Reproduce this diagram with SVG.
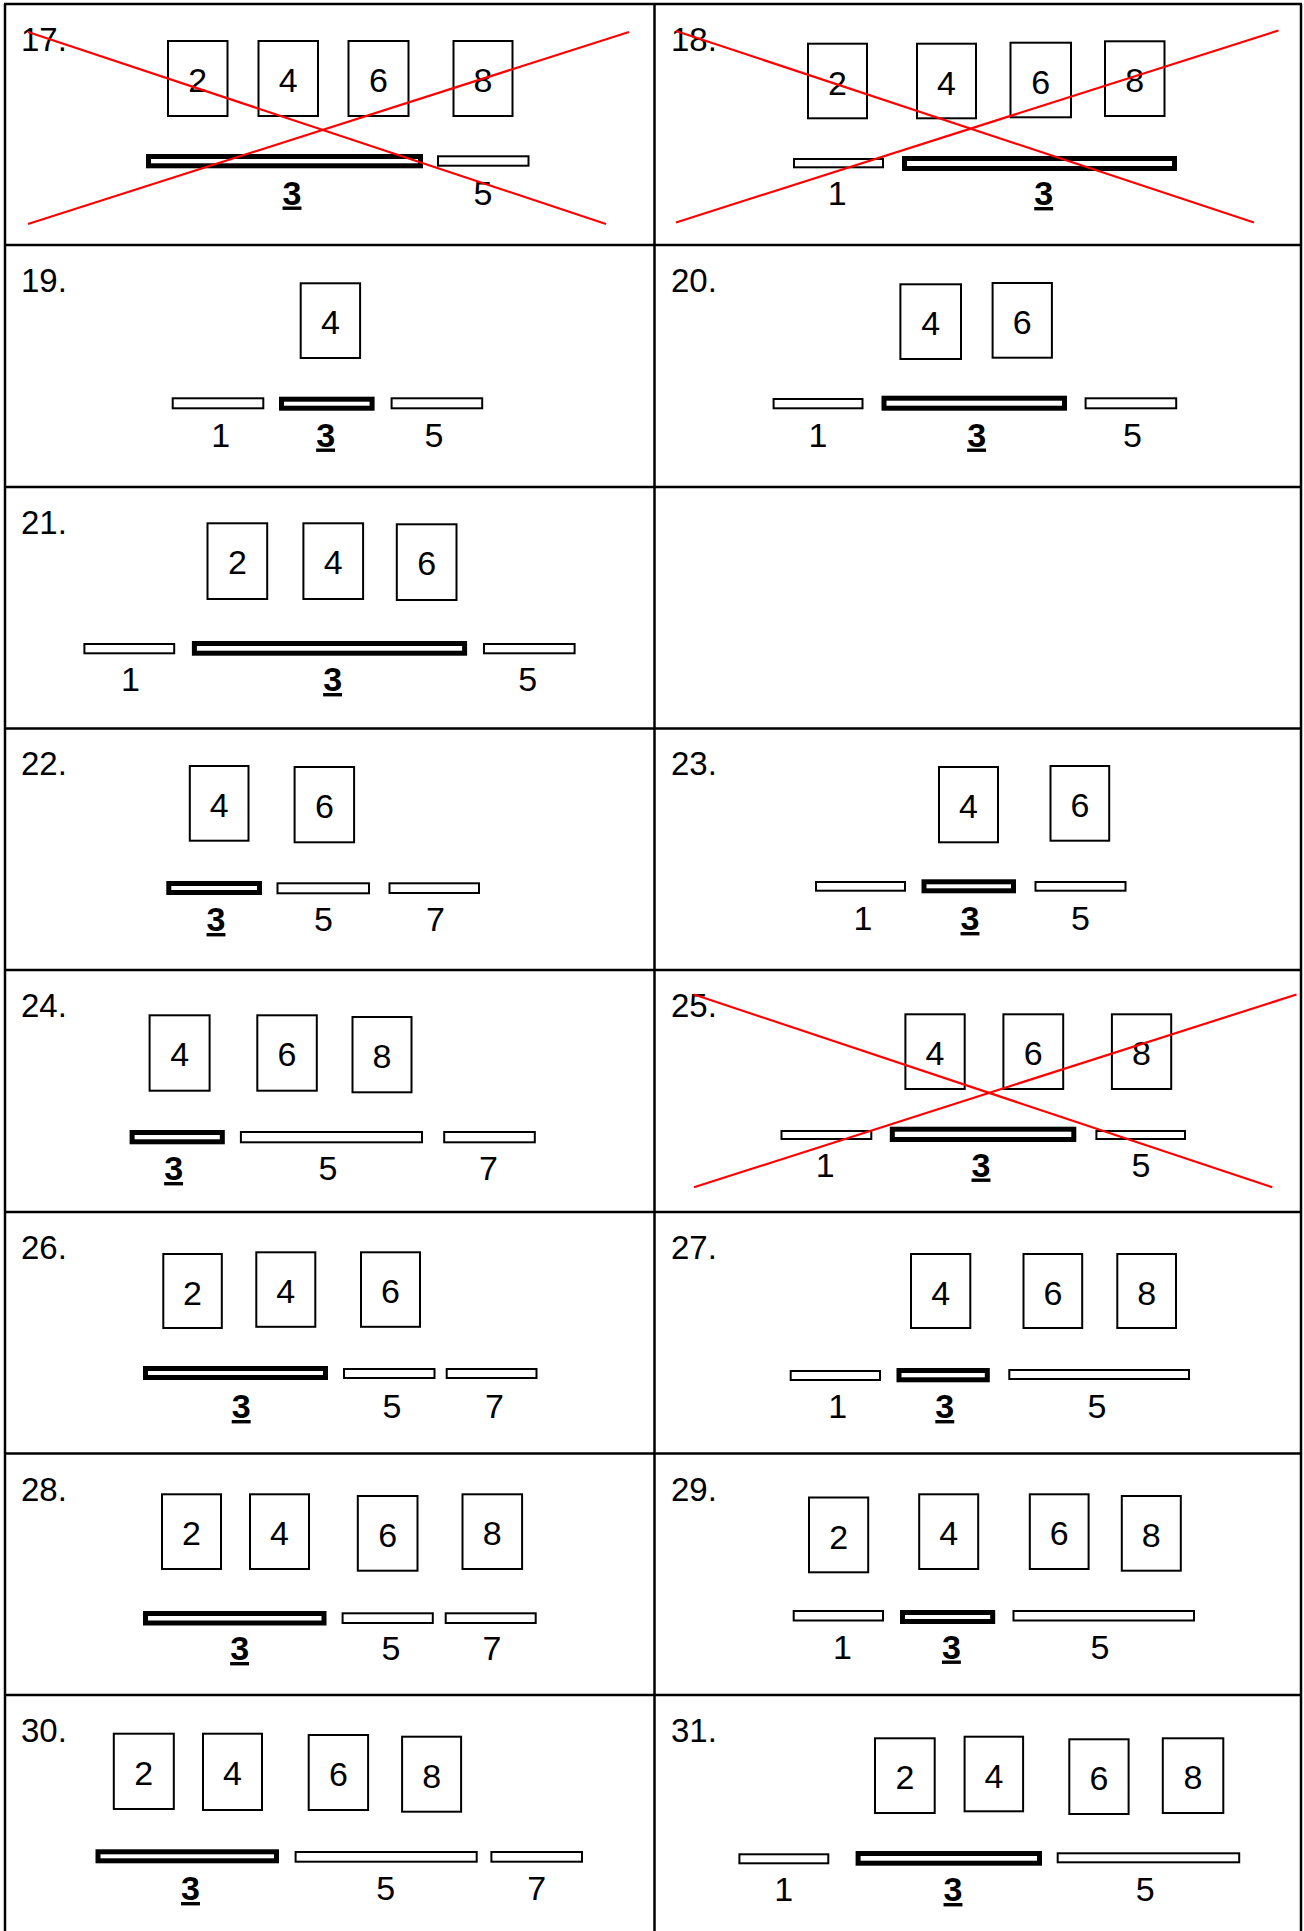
<svg xmlns="http://www.w3.org/2000/svg" width="1304" height="1931" viewBox="0 0 1304 1931">
<style>
.grid{stroke:#000;stroke-width:2.5;fill:none}
.box{fill:#fff;stroke:#000;stroke-width:2}
.bar{fill:#fff;stroke:#000;stroke-width:2}
.tbar{fill:#fff;stroke:#000;stroke-width:5}
text{font-family:"Liberation Sans",Arial,"DejaVu Sans",sans-serif;font-size:34px;fill:#000}
.n{font-size:33px}
.c{text-anchor:middle}
.b{font-weight:bold;text-decoration:underline}
.x{stroke:#f00;stroke-width:2.2;fill:none}
</style>
<rect x="0" y="0" width="1304" height="1931" fill="#fff"/>
<g id="grid">
<line class="grid" x1="5" y1="4" x2="5" y2="1931"/>
<line class="grid" x1="1301" y1="4" x2="1301" y2="1931"/>
<line class="grid" x1="654.5" y1="4" x2="654.5" y2="1931"/>
<line class="grid" x1="4" y1="4" x2="1302" y2="4"/>
<line class="grid" x1="4" y1="245" x2="1302" y2="245"/>
<line class="grid" x1="4" y1="487" x2="1302" y2="487"/>
<line class="grid" x1="4" y1="728.5" x2="1302" y2="728.5"/>
<line class="grid" x1="4" y1="970" x2="1302" y2="970"/>
<line class="grid" x1="4" y1="1212" x2="1302" y2="1212"/>
<line class="grid" x1="4" y1="1453.5" x2="1302" y2="1453.5"/>
<line class="grid" x1="4" y1="1695" x2="1302" y2="1695"/>
</g>

<g id="p17">
<text class="n" x="21" y="51">17.</text>
<rect class="box" x="168" y="41" width="59.5" height="75"/><text class="c" x="197.75" y="92">2</text>
<rect class="box" x="258.5" y="41" width="59.5" height="75"/><text class="c" x="288.25" y="92">4</text>
<rect class="box" x="348.5" y="41" width="60" height="75"/><text class="c" x="378.5" y="92">6</text>
<rect class="box" x="453.5" y="41" width="59" height="75"/><text class="c" x="483" y="92">8</text>
<rect class="tbar" x="148.5" y="156.5" width="272" height="9.3"/>
<rect class="bar" x="438" y="156.3" width="90.5" height="9.4"/>
<text class="c b" x="292" y="204.5">3</text>
<text class="c" x="483" y="204.5">5</text>
<line class="x" x1="28" y1="32" x2="606" y2="224"/>
<line class="x" x1="28" y1="224" x2="629" y2="32"/>
</g>

<g id="p18">
<text class="n" x="671" y="51">18.</text>
<rect class="box" x="808" y="43.7" width="59" height="74.6"/><text class="c" x="837.5" y="94.7">2</text>
<rect class="box" x="917" y="43.7" width="59" height="74.6"/><text class="c" x="946.5" y="94.7">4</text>
<rect class="box" x="1010.5" y="42.7" width="60.5" height="74.6"/><text class="c" x="1040.75" y="93.7">6</text>
<rect class="box" x="1105" y="41.3" width="59.5" height="74.7"/><text class="c" x="1134.75" y="92.3">8</text>
<rect class="bar" x="794" y="159" width="89" height="8.3"/>
<rect class="tbar" x="904.5" y="158.5" width="270" height="10"/>
<text class="c" x="837.2" y="205">1</text>
<text class="c b" x="1043.7" y="205">3</text>
<line class="x" x1="676" y1="31" x2="1254" y2="222.5"/>
<line class="x" x1="676" y1="222.5" x2="1278.5" y2="30.5"/>
</g>

<g id="p19">
<text class="n" x="21" y="292.3">19.</text>
<rect class="box" x="300.7" y="283.3" width="59.4" height="74.7"/><text class="c" x="330.4" y="334.3">4</text>
<rect class="bar" x="172.7" y="398.3" width="90.6" height="10"/>
<rect class="tbar" x="281.5" y="399.2" width="90.6" height="9"/>
<rect class="bar" x="391.6" y="398.3" width="90.6" height="10"/>
<text class="c" x="220.7" y="446.5">1</text>
<text class="c b" x="325.6" y="446.5">3</text>
<text class="c" x="434" y="446.5">5</text>
</g>

<g id="p20">
<text class="n" x="671" y="292.3">20.</text>
<rect class="box" x="900.4" y="284.3" width="60.6" height="74.7"/><text class="c" x="930.7" y="335.3">4</text>
<rect class="box" x="992.6" y="283" width="59.3" height="74.7"/><text class="c" x="1022.25" y="334">6</text>
<rect class="bar" x="773.6" y="399" width="88.9" height="9.3"/>
<rect class="tbar" x="884" y="398.2" width="180.5" height="10"/>
<rect class="bar" x="1085.6" y="398.3" width="90.6" height="10"/>
<text class="c" x="818" y="446.5">1</text>
<text class="c b" x="976.6" y="446.5">3</text>
<text class="c" x="1132.4" y="446.5">5</text>
</g>

<g id="p21">
<text class="n" x="21" y="534.3">21.</text>
<rect class="box" x="207.5" y="523.3" width="59.7" height="75.7"/><text class="c" x="237.35" y="574.3">2</text>
<rect class="box" x="303.4" y="523.3" width="59.7" height="75.7"/><text class="c" x="333.25" y="574.3">4</text>
<rect class="box" x="396.8" y="524.3" width="59.7" height="75.7"/><text class="c" x="426.65" y="575.3">6</text>
<rect class="bar" x="84.4" y="644" width="89.8" height="9.3"/>
<rect class="tbar" x="194.4" y="643.5" width="270.2" height="9.7"/>
<rect class="bar" x="484" y="644" width="90.6" height="9.3"/>
<text class="c" x="130.5" y="691">1</text>
<text class="c b" x="332.6" y="691">3</text>
<text class="c" x="527.6" y="691">5</text>
</g>

<g id="p22">
<text class="n" x="21" y="775.3">22.</text>
<rect class="box" x="189.8" y="766" width="58.7" height="74.7"/><text class="c" x="219.15" y="817">4</text>
<rect class="box" x="294.6" y="767" width="59.5" height="75.3"/><text class="c" x="324.35" y="818">6</text>
<rect class="tbar" x="168.8" y="883.5" width="90.7" height="9"/>
<rect class="bar" x="277.5" y="883.3" width="91.5" height="10"/>
<rect class="bar" x="389.5" y="883.3" width="89.5" height="9.7"/>
<text class="c b" x="216" y="931">3</text>
<text class="c" x="323.5" y="931">5</text>
<text class="c" x="435.5" y="931">7</text>
</g>

<g id="p23">
<text class="n" x="671" y="775.3">23.</text>
<rect class="box" x="939" y="767" width="59" height="75.3"/><text class="c" x="968.5" y="818">4</text>
<rect class="box" x="1050.5" y="766" width="58.7" height="74.7"/><text class="c" x="1079.85" y="817">6</text>
<rect class="bar" x="816" y="882" width="89" height="8.7"/>
<rect class="tbar" x="924" y="881.8" width="89.5" height="9"/>
<rect class="bar" x="1035.5" y="882" width="90" height="8.7"/>
<text class="c" x="863" y="930">1</text>
<text class="c b" x="970" y="930">3</text>
<text class="c" x="1080.5" y="930">5</text>
</g>

<g id="p24">
<text class="n" x="21" y="1017.3">24.</text>
<rect class="box" x="149.6" y="1015.3" width="60" height="75.4"/><text class="c" x="179.6" y="1066.3">4</text>
<rect class="box" x="257.3" y="1015.3" width="59.5" height="75.4"/><text class="c" x="287.05" y="1066.3">6</text>
<rect class="box" x="352.5" y="1017" width="59" height="75.3"/><text class="c" x="382" y="1068">8</text>
<rect class="tbar" x="132.1" y="1132.5" width="90.2" height="9.3"/>
<rect class="bar" x="240.9" y="1132" width="181.1" height="10.3"/>
<rect class="bar" x="444.2" y="1132" width="90.6" height="10.3"/>
<text class="c b" x="173.6" y="1180">3</text>
<text class="c" x="328" y="1180">5</text>
<text class="c" x="488.5" y="1180">7</text>
</g>

<g id="p25">
<text class="n" x="671" y="1017.3">25.</text>
<rect class="box" x="905.4" y="1014.3" width="59.3" height="74.7"/><text class="c" x="935.05" y="1065.3">4</text>
<rect class="box" x="1003.4" y="1014.3" width="59.8" height="74.7"/><text class="c" x="1033.3" y="1065.3">6</text>
<rect class="box" x="1111.9" y="1014.3" width="59.3" height="74.7"/><text class="c" x="1141.55" y="1065.3">8</text>
<rect class="bar" x="781.5" y="1131" width="89.8" height="8"/>
<rect class="tbar" x="892.3" y="1129.2" width="181.5" height="10.3"/>
<rect class="bar" x="1096.4" y="1131" width="88.6" height="8"/>
<text class="c" x="825.3" y="1176.5">1</text>
<text class="c b" x="981" y="1176.5">3</text>
<text class="c" x="1141" y="1176.5">5</text>
<line class="x" x1="694" y1="994.5" x2="1272.3" y2="1187.3"/>
<line class="x" x1="694" y1="1187.3" x2="1296.5" y2="994.5"/>
</g>

<g id="p26">
<text class="n" x="21" y="1259.3">26.</text>
<rect class="box" x="163.3" y="1254" width="58.5" height="74"/><text class="c" x="192.55" y="1305">2</text>
<rect class="box" x="256.3" y="1252.3" width="59" height="74.5"/><text class="c" x="285.8" y="1303.3">4</text>
<rect class="box" x="361" y="1252.3" width="59" height="74.5"/><text class="c" x="390.5" y="1303.3">6</text>
<rect class="tbar" x="145.5" y="1368.5" width="180" height="9"/>
<rect class="bar" x="344" y="1369" width="90.5" height="9"/>
<rect class="bar" x="446.7" y="1369" width="89.8" height="9"/>
<text class="c b" x="241.2" y="1418">3</text>
<text class="c" x="392" y="1418">5</text>
<text class="c" x="494.5" y="1418">7</text>
</g>

<g id="p27">
<text class="n" x="671" y="1259.3">27.</text>
<rect class="box" x="911" y="1254" width="59.3" height="74"/><text class="c" x="940.65" y="1305">4</text>
<rect class="box" x="1023.5" y="1254" width="58.7" height="74"/><text class="c" x="1052.85" y="1305">6</text>
<rect class="box" x="1117.3" y="1254" width="58.7" height="74"/><text class="c" x="1146.65" y="1305">8</text>
<rect class="bar" x="790.7" y="1371" width="89.3" height="9"/>
<rect class="tbar" x="899" y="1370.5" width="88.3" height="9.3"/>
<rect class="bar" x="1009.3" y="1370" width="179.7" height="9"/>
<text class="c" x="837.6" y="1418">1</text>
<text class="c b" x="944.8" y="1418">3</text>
<text class="c" x="1097" y="1418">5</text>
</g>

<g id="p28">
<text class="n" x="21" y="1500.8">28.</text>
<rect class="box" x="162" y="1494.3" width="59" height="74.7"/><text class="c" x="191.5" y="1545.3">2</text>
<rect class="box" x="250" y="1494.3" width="59" height="74.7"/><text class="c" x="279.5" y="1545.3">4</text>
<rect class="box" x="357.8" y="1496" width="59.7" height="74.7"/><text class="c" x="387.65" y="1547">6</text>
<rect class="box" x="462.5" y="1494.3" width="59.6" height="74.7"/><text class="c" x="492.3" y="1545.3">8</text>
<rect class="tbar" x="145.5" y="1613.5" width="178.5" height="9.5"/>
<rect class="bar" x="342.6" y="1613.3" width="90.2" height="9.7"/>
<rect class="bar" x="445.7" y="1613.3" width="90" height="9.7"/>
<text class="c b" x="239.6" y="1660">3</text>
<text class="c" x="391" y="1660">5</text>
<text class="c" x="492" y="1660">7</text>
</g>

<g id="p29">
<text class="n" x="671" y="1500.8">29.</text>
<rect class="box" x="809" y="1497.5" width="59.2" height="74.8"/><text class="c" x="838.6" y="1548.5">2</text>
<rect class="box" x="919.2" y="1494.3" width="59" height="74.7"/><text class="c" x="948.7" y="1545.3">4</text>
<rect class="box" x="1029.8" y="1494.3" width="58.8" height="74.7"/><text class="c" x="1059.2" y="1545.3">6</text>
<rect class="box" x="1121.8" y="1496" width="59" height="74.7"/><text class="c" x="1151.3" y="1547">8</text>
<rect class="bar" x="793.7" y="1611" width="89.3" height="9.5"/>
<rect class="tbar" x="902.5" y="1612.5" width="90.2" height="9"/>
<rect class="bar" x="1013.5" y="1611" width="180.5" height="9.5"/>
<text class="c" x="842.5" y="1658.5">1</text>
<text class="c b" x="951.4" y="1658.5">3</text>
<text class="c" x="1100" y="1658.5">5</text>
</g>

<g id="p30">
<text class="n" x="21" y="1742.3">30.</text>
<rect class="box" x="113.8" y="1733.7" width="60" height="75.3"/><text class="c" x="143.8" y="1784.7">2</text>
<rect class="box" x="203" y="1733.7" width="59" height="76.3"/><text class="c" x="232.5" y="1784.7">4</text>
<rect class="box" x="308.7" y="1735" width="59.4" height="75"/><text class="c" x="338.4" y="1786">6</text>
<rect class="box" x="402.1" y="1736.7" width="59" height="75"/><text class="c" x="431.6" y="1787.7">8</text>
<rect class="tbar" x="98" y="1851.8" width="178.5" height="9"/>
<rect class="bar" x="295.6" y="1852" width="181.1" height="9.7"/>
<rect class="bar" x="491.4" y="1852" width="90.6" height="9.7"/>
<text class="c b" x="190.5" y="1900">3</text>
<text class="c" x="385.6" y="1900">5</text>
<text class="c" x="536.6" y="1900">7</text>
</g>

<g id="p31">
<text class="n" x="671" y="1742.3">31.</text>
<rect class="box" x="875" y="1738.3" width="59.7" height="74.7"/><text class="c" x="904.85" y="1789.3">2</text>
<rect class="box" x="964.6" y="1736.7" width="58.5" height="74.6"/><text class="c" x="993.85" y="1787.7">4</text>
<rect class="box" x="1069.3" y="1739.3" width="59.3" height="74.7"/><text class="c" x="1098.95" y="1790.3">6</text>
<rect class="box" x="1162.8" y="1738.3" width="60.5" height="74.7"/><text class="c" x="1193.05" y="1789.3">8</text>
<rect class="bar" x="739.4" y="1854.3" width="88.9" height="9"/>
<rect class="tbar" x="858.1" y="1853.5" width="181.4" height="9.7"/>
<rect class="bar" x="1057.7" y="1853.3" width="181.5" height="9"/>
<text class="c" x="783.8" y="1901">1</text>
<text class="c b" x="953" y="1901">3</text>
<text class="c" x="1145.3" y="1901">5</text>
</g>
</svg>
